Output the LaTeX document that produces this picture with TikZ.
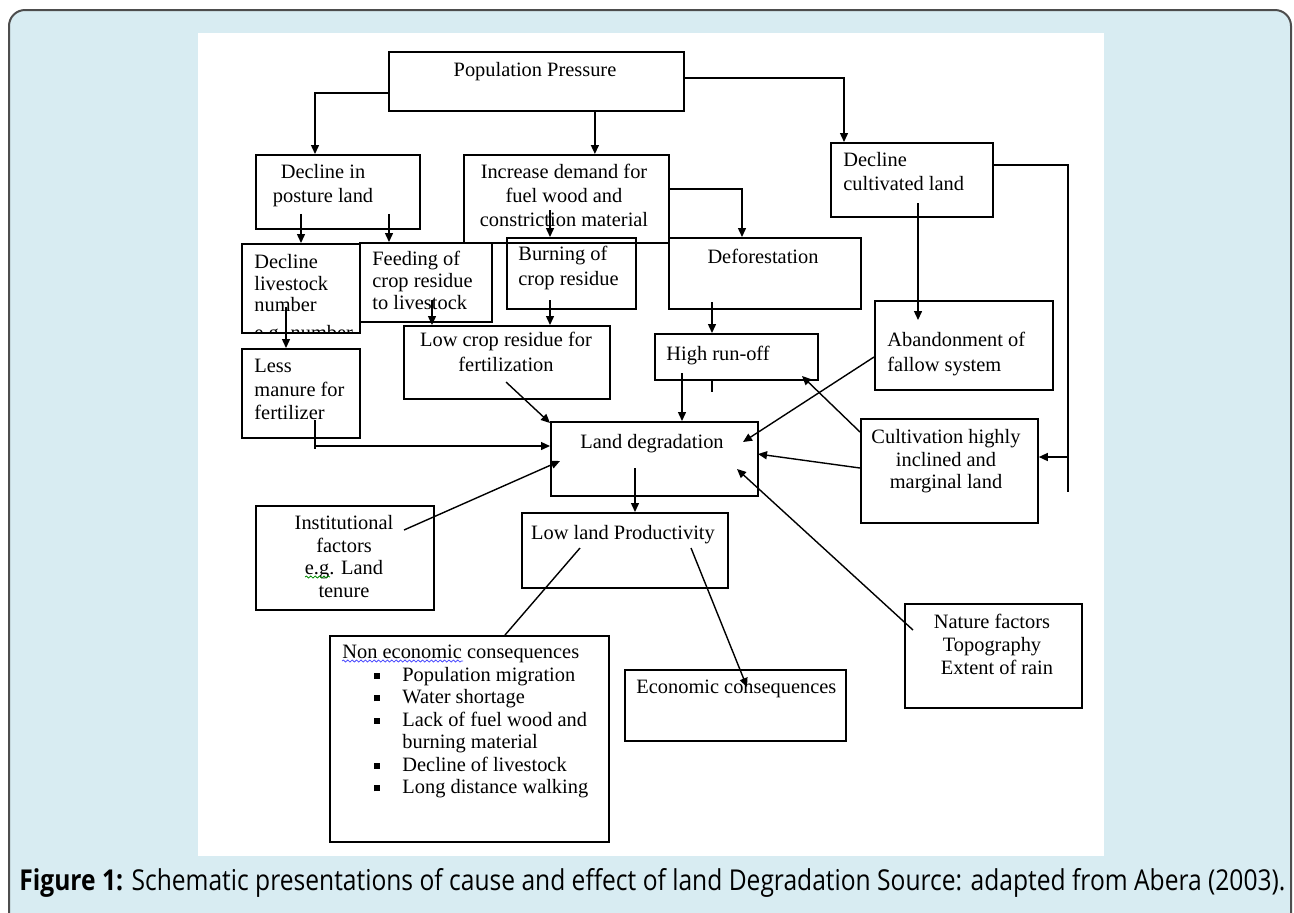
\documentclass[tikz,border=0pt]{standalone}
\usepackage{fontspec}
\setmainfont{Liberation Serif}
\newfontfamily\capfont{Open Sans}
\usepackage{graphicx}
\usetikzlibrary{arrows.meta,calc,decorations.pathmorphing}
\definecolor{panelblue}{HTML}{D8ECF2}
\definecolor{framegray}{HTML}{4D4D4D}
\newcommand{\sqbullet}{\hspace*{16pt}\makebox[14pt][l]{\rule[1.3pt]{2.6pt}{3pt}}}

\begin{document}
\begin{tikzpicture}[
        x=0.5pt, y=-0.5pt,
        box/.style={draw, line width=0.9pt, anchor=north west, inner sep=0pt},
        txt/.style={inner sep=0pt, align=left, font=\fontsize{10.2}{11}\selectfont},
        arr/.style={line width=0.7pt, -{Triangle[length=4.5pt,width=4pt]}},
        link/.style={line width=0.7pt},
        squiggle/.style={line width=0.4pt, decorate, decoration={snake, amplitude=0.5pt, segment length=2.2pt}},
    ]
    \useasboundingbox (0,0) rectangle (1294,912);
    \clip (0,0) rectangle (1294,912);
    % panel and figure area
    \draw[framegray, line width=1pt, fill=panelblue, rounded corners=8pt] (9,10) rectangle (1291,940);
    \fill[white] (198,33) rectangle (1104,856);

    % boxes
    \node[box, minimum width=147.5pt, minimum height=29.5pt] (pop) at (388,51) {};
    \node[box, minimum width=82pt, minimum height=37pt] (posture) at (255,154) {};
    \node[box, minimum width=102.5pt, minimum height=44pt] (demand) at (463,154) {};
    \node[box, minimum width=81pt, minimum height=37pt] (cultiv) at (830,142) {};
    \node[box, minimum width=59pt, minimum height=44.5pt] (livestock) at (241,243) {};
    \node[box, minimum width=66pt, minimum height=39.5pt] (feeding) at (359,242) {};
    \node[box, minimum width=64.5pt, minimum height=35.5pt] (burning) at (506,237) {};
    \node[box, minimum width=96pt, minimum height=35.5pt] (defor) at (668,237) {};
    \node[box, minimum width=89pt, minimum height=44.5pt] (abandon) at (874,300) {};
    \node[box, minimum width=81.5pt, minimum height=23pt] (runoff) at (654,333) {};
    \node[box, minimum width=103pt, minimum height=36.5pt] (lowres) at (403,325) {};
    \node[box, minimum width=59pt, minimum height=44.5pt] (manure) at (241,348) {};
    \node[box, minimum width=103.5pt, minimum height=37pt] (landdeg) at (550,421) {};
    \node[box, minimum width=88.5pt, minimum height=52pt] (incline) at (860,418) {};
    \node[box, minimum width=89pt, minimum height=52pt] (inst) at (255,505) {};
    \node[box, minimum width=103pt, minimum height=37.5pt] (lowprod) at (521,512) {};
    \node[box, minimum width=88.5pt, minimum height=52pt] (nature) at (904,603) {};
    \node[box, minimum width=139.5pt, minimum height=103pt] (noneco) at (329,635) {};
    \node[box, minimum width=110.5pt, minimum height=35.5pt] (eco) at (624,669) {};

    % texts
    \node[txt, anchor=north] (pop-t) at (535,62) {Population Pressure};
    \node[txt, anchor=north, align=center, font=\fontsize{10.2}{12}\selectfont] (posture-t) at (323,164) {Decline in\\posture land};
    \node[txt, anchor=north, align=center, font=\fontsize{10.2}{12}\selectfont] (demand-t) at (564,164) {Increase demand for\\fuel wood and\\constriction material};
    \node[txt, anchor=north west, font=\fontsize{10.2}{12}\selectfont] (cultiv-t) at (843,152) {Decline\\cultivated land};
    \begin{scope}
        \clip (livestock.north west) rectangle (livestock.south east);
        \node[txt, anchor=north west, font=\fontsize{10.2}{10.75}\selectfont] (livestock-t) at (254,254) {Decline\\livestock\\number\\[3.2pt]e.g. number};
    \end{scope}
    \node[txt, anchor=north west] (feeding-t) at (372,251) {Feeding of\\crop residue\\to livestock};
    \node[txt, anchor=north west, font=\fontsize{10.2}{12.5}\selectfont] (burning-t) at (518,246) {Burning of\\crop residue};
    \node[txt, anchor=north] (defor-t) at (763,249) {Deforestation};
    \node[txt, anchor=north west, font=\fontsize{10.2}{12.5}\selectfont] (abandon-t) at (887,332) {Abandonment of\\fallow system};
    \node[txt, anchor=north west] (runoff-t) at (666,346) {High run-off};
    \node[txt, anchor=north, align=center, font=\fontsize{10.2}{12.5}\selectfont] (lowres-t) at (506,332) {Low crop residue for\\fertilization};
    \node[txt, anchor=north west, font=\fontsize{10.2}{11.75}\selectfont] (manure-t) at (254,359) {Less\\manure for\\fertilizer};
    \node[txt, anchor=north] (landdeg-t) at (652,434) {Land degradation};
    \node[txt, anchor=north, align=center, font=\fontsize{10.2}{11.25}\selectfont] (incline-t) at (946,429) {Cultivation highly\\inclined and\\marginal land};
    \node[txt, anchor=north, align=center, font=\fontsize{10.2}{11.25}\selectfont] (inst-t) at (344,515) {Institutional\\factors\\e.g. Land\\tenure};
    \node[txt, anchor=north] (lowprod-t) at (623,525) {Low land Productivity};
    \node[txt, anchor=north, align=center, font=\fontsize{10.2}{11.5}\selectfont] (nature-t) at (992,614) {Nature factors\\Topography\\\hspace*{5pt}Extent of rain};
    \node[txt, anchor=north west, font=\fontsize{10.2}{11.25}\selectfont] (noneco-t) at (342,645) {Non economic consequences\\
        \sqbullet Population migration\\
        \sqbullet Water shortage\\
        \sqbullet Lack of fuel wood and\\
        \hspace*{30pt}burning material\\
        \sqbullet Decline of livestock\\
        \sqbullet Long distance walking};
    \node[txt, anchor=north west] (eco-t) at (636,680) {Economic consequences};

    % spelling marks
    \draw[squiggle, green!55!black] (305,577) -- (330,577);
    \draw[squiggle, blue!70] (342,661) -- (463,661);

    % connectors
    \draw[arr] ($(pop.south west)+(0,-19)$) -| ($(posture.north west)+(60,0)$);
    \draw[arr] ($(pop.south)+(58.5,0)$) coordinate (a1) -- (a1 |- demand.north);
    \draw[arr] ($(pop.north east)+(0,27)$) -| ($(cultiv.north west)+(14,0)$);
    \draw[arr] ($(posture.south west)+(46,-16)$) coordinate (a2) -- (a2 |- livestock.north);
    \draw[arr] ($(posture.south west)+(134,-16)$) coordinate (a3) -- (a3 |- feeding.north);
    \draw[arr] ($(livestock.north west)+(45,64)$) coordinate (a4) -- (a4 |- manure.north);
    \draw[arr] ($(feeding.north west)+(73,58)$) coordinate (a5) -- (a5 |- lowres.north);
    \draw[arr] ($(demand.north west)+(87,56)$) coordinate (a6) -- (a6 |- burning.north);
    \draw[arr] ($(burning.north west)+(44,63)$) coordinate (a7) -- (a7 |- lowres.north);
    \draw[arr] ($(demand.north east)+(0,35)$) -| ($(defor.north west)+(74,0)$);
    \draw[arr] ($(defor.north west)+(44,65)$) coordinate (a8) -- (a8 |- runoff.north);
    \draw[link] ($(runoff.south west)+(58,0)$) -- ++(0,11);
    \draw[arr] ($(cultiv.north west)+(88,61)$) coordinate (a9) -- ($(a9 |- abandon.north)+(0,20)$);
    \draw[link] ($(cultiv.north east)+(0,23)$) -- ++(74,0) coordinate (bus) -- ($(bus |- incline.south)+(0,-32)$);
    \coordinate (a10) at ($(incline.north east)+(0,39)$);
    \draw[arr] (bus |- a10) -- (a10);
    \draw[arr] ($(runoff.north west)+(28,40)$) coordinate (a11) -- (a11 |- landdeg.north);
    \draw[arr] ($(abandon.north west)+(0,57)$) -- ($(landdeg.north west)+(193,21)$);
    \draw[arr] ($(incline.north west)+(0,14)$) -- ($(runoff.north west)+(148,43)$);
    \draw[arr] ($(incline.north west)+(0,50)$) -- ($(landdeg.north west)+(208,33)$);
    \draw[arr] ($(lowres.north west)+(103,57)$) -- ($(landdeg.north west)+(0,2)$);
    \coordinate (m1) at ($(manure.north west)+(74,72)$);
    \draw[link] (m1) -- ++(0,29);
    \draw[arr] ($(m1)+(0,26)$) coordinate (a12) -- (a12 -| landdeg.west);
    \draw[arr] ($(inst.north west)+(149,25)$) -- ($(landdeg.north west)+(10,40)$);
    \draw[arr] ($(nature.north west)+(9,27)$) -- ($(landdeg.north west)+(187,48)$);
    \draw[arr] ($(landdeg.north west)+(85,47)$) coordinate (a13) -- (a13 |- lowprod.north);
    \draw[link] ($(lowprod.north west)+(59,36)$) -- ($(noneco.north west)+(176,0)$);
    \draw[arr] ($(lowprod.north west)+(170,36)$) -- ($(eco.north west)+(123,18)$);

    % caption
    \node[anchor=base west, inner sep=0pt] (caption) at (19,890) {\resizebox{633pt}{11pt}{\capfont\textbf{Figure 1:} Schematic presentations of cause and effect of land Degradation Source: adapted from Abera (2003).}};
\end{tikzpicture}
\end{document}
